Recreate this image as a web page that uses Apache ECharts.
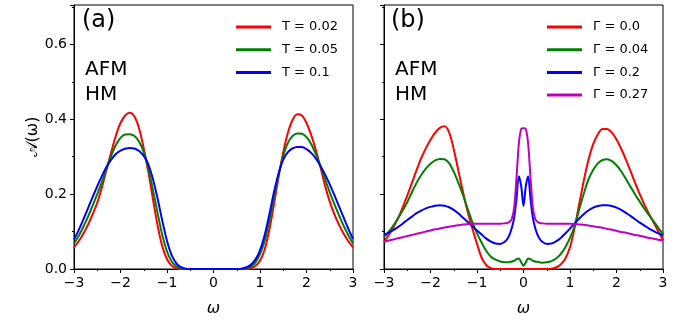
<!DOCTYPE html>
<html><head><meta charset="utf-8">
<script src="https://cdn.jsdelivr.net/npm/echarts@6/dist/echarts.min.js"></script>
<style>html,body{margin:0;padding:0;background:#fff}#c{width:691px;height:322px}</style>
</head><body><div id="c"></div>
<script>
// ---- Panel (a) : omega grid ----
const xA = [-3.0,-2.9,-2.8,-2.7,-2.6,-2.5,-2.4,-2.3,-2.2,-2.1,
            -2.0,-1.9,-1.8,-1.7,-1.6,-1.5,-1.4,-1.3,-1.2,-1.1,
            -1.0,-0.9,-0.8,-0.7,-0.6,-0.5,-0.4,-0.3,-0.2,-0.1,
            0.0,
            0.1,0.2,0.3,0.4,0.5,0.6,0.7,0.8,0.9,1.0,
            1.1,1.2,1.3,1.4,1.5,1.6,1.7,1.8,1.9,2.0,
            2.1,2.2,2.3,2.4,2.5,2.6,2.7,2.8,2.9,3.0];
const aT002 = [0.058,0.074,0.094,0.118,0.146,0.177,0.218,0.265,0.312,0.356,
               0.390,0.410,0.417,0.407,0.375,0.322,0.258,0.185,0.115,0.060,
               0.026,0.009,0.002,0,0,0,0,0,0,0,
               0,
               0,0,0,0,0,0,0,0.002,0.008,0.022,
               0.052,0.104,0.172,0.246,0.312,0.364,0.398,0.413,0.410,0.390,
               0.358,0.318,0.272,0.222,0.180,0.146,0.118,0.094,0.074,0.058];
const aT005 = [0.068,0.088,0.112,0.139,0.169,0.200,0.232,0.268,0.302,0.331,
               0.350,0.359,0.360,0.355,0.340,0.312,0.268,0.210,0.148,0.090,
               0.047,0.020,0.007,0.002,0,0,0,0,0,0,
               0,
               0,0,0,0,0,0,0.002,0.006,0.017,0.040,
               0.075,0.128,0.190,0.252,0.302,0.337,0.355,0.362,0.361,0.352,
               0.334,0.307,0.275,0.240,0.205,0.173,0.143,0.115,0.090,0.068];
const aT01  = [0.079,0.104,0.132,0.162,0.192,0.221,0.248,0.273,0.292,0.307,
               0.316,0.321,0.323,0.322,0.315,0.302,0.279,0.239,0.187,0.128,
               0.075,0.037,0.015,0.005,0.001,0,0,0,0,0,
               0,
               0,0,0,0,0,0.001,0.004,0.011,0.025,0.050,
               0.090,0.145,0.205,0.255,0.292,0.312,0.322,0.326,0.326,0.320,
               0.310,0.295,0.275,0.252,0.226,0.197,0.167,0.137,0.107,0.080];

// ---- Panel (b) : omega grid ----
const xB = [-3.0,-2.9,-2.8,-2.7,-2.6,-2.5,-2.4,-2.3,-2.2,-2.1,
            -2.0,-1.9,-1.8,-1.7,-1.6,-1.5,-1.4,-1.3,-1.2,-1.1,
            -1.0,-0.9,-0.8,-0.7,-0.6,-0.5,-0.4,
            -0.35,-0.3,-0.25,-0.2,-0.15,-0.1,-0.05,0,0.05,0.1,0.15,0.2,0.25,0.3,0.35,
            0.4,0.5,0.6,0.7,0.8,0.9,1.0,
            1.1,1.2,1.3,1.4,1.5,1.6,1.7,1.8,1.9,2.0,
            2.1,2.2,2.3,2.4,2.5,2.6,2.7,2.8,2.9,3.0];
const bG000 = [0.072,0.090,0.111,0.135,0.164,0.196,0.230,0.264,0.296,0.322,
               0.345,0.364,0.377,0.381,0.365,0.320,0.262,0.205,0.153,0.108,
               0.067,0.030,0.010,0.002,0,0,0,
               0,0,0,0,0,0,0,0,0,0,0,0,0,0,0,
               0,0,0.001,0.004,0.012,0.028,0.058,
               0.110,0.175,0.238,0.293,0.334,0.360,0.374,0.374,0.364,0.346,
               0.321,0.293,0.262,0.230,0.200,0.172,0.147,0.124,0.100,0.077];
const bG004 = [0.085,0.099,0.116,0.135,0.156,0.178,0.205,0.230,0.251,0.268,
               0.281,0.290,0.294,0.293,0.283,0.260,0.230,0.197,0.160,0.125,
               0.095,0.070,0.048,0.033,0.025,0.020,0.018,
               0.018,0.019,0.020,0.022,0.026,0.028,0.018,0.009,0.018,0.028,0.026,0.022,0.020,0.019,0.018,
               0.017,0.018,0.021,0.028,0.040,0.058,0.083,
               0.115,0.160,0.203,0.240,0.265,0.282,0.291,0.293,0.288,0.277,
               0.261,0.241,0.220,0.199,0.180,0.161,0.144,0.127,0.110,0.093];
const bG020 = [0.091,0.097,0.104,0.112,0.121,0.131,0.140,0.149,0.156,0.162,
               0.166,0.169,0.170,0.169,0.165,0.158,0.148,0.137,0.126,0.114,
               0.103,0.092,0.081,0.073,0.068,0.067,0.073,
               0.080,0.092,0.110,0.138,0.188,0.248,0.222,0.168,0.222,0.248,0.188,0.138,0.110,0.092,0.080,
               0.073,0.067,0.068,0.074,0.083,0.095,0.108,
               0.122,0.135,0.147,0.157,0.164,0.168,0.170,0.170,0.168,0.164,
               0.158,0.150,0.142,0.133,0.124,0.116,0.108,0.101,0.095,0.090];
const bG027 = [0.073,0.076,0.079,0.082,0.085,0.088,0.091,0.094,0.097,0.100,
               0.103,0.106,0.108,0.111,0.113,0.115,0.117,0.119,0.120,0.121,
               0.121,0.121,0.121,0.121,0.121,0.121,0.122,
               0.123,0.126,0.134,0.165,0.245,0.335,0.374,0.376,0.374,0.335,0.245,0.165,0.134,0.126,0.123,
               0.122,0.121,0.121,0.121,0.121,0.121,0.121,
               0.120,0.119,0.118,0.116,0.114,0.112,0.110,0.107,0.105,0.102,
               0.099,0.097,0.094,0.091,0.089,0.086,0.083,0.081,0.078,0.076];

const namesA = ['T = 0.02','T = 0.05','T = 0.1'];
const namesB = ['Γ = 0.0','Γ = 0.04','Γ = 0.2','Γ = 0.27'];
const xTicks = [-3,-2,-1,0,1,2,3];
const yTicks = [0,0.2,0.4,0.6];

const FONT = 'DejaVu Sans';
const zip = (xs, ys) => xs.map((x,i)=>[x, ys[i]]);

function xAxisCfg(idx){
  return {gridIndex: idx, type:'value', min: xTicks[0], max: xTicks[xTicks.length-1], interval: 1,
    name: 'ω', nameLocation:'middle', nameGap: 32,
    nameTextStyle:{fontFamily: FONT, fontSize: 16, fontStyle:'italic', color:'#000'},
    axisLine:{show:true, onZero:false, lineStyle:{color:'#000', width:1}},
    axisTick:{show:true, length:4, lineStyle:{color:'#000'}},
    minorTick:{show:true, splitNumber:2, length:2, lineStyle:{color:'#000'}},
    splitLine:{show:false},
    axisLabel:{margin:7, fontFamily: FONT, fontSize:14, color:'#000',
      formatter: v => String(v).replace('-', '\u2212')}};
}
function yAxisCfg(idx, labels){
  return {gridIndex: idx, type:'value', min: yTicks[0], max: 0.705, interval: 0.2,
    name: labels ? '𝒜(ω)' : '', nameLocation:'middle', nameGap: 30, nameRotate: 90,
    nameTextStyle:{fontFamily: FONT, fontSize: 16, color:'#000'},
    axisLine:{show:true, onZero:false, lineStyle:{color:'#000', width:1}},
    axisTick:{show:true, length:4, lineStyle:{color:'#000'}},
    minorTick:{show:true, splitNumber:2, length:2, lineStyle:{color:'#000'}},
    splitLine:{show:false},
    axisLabel:{show: labels, margin:7, fontFamily: FONT, fontSize:14, color:'#000',
      showMaxLabel:false,
      formatter: v => v.toFixed(1)}};
}
function lineSeries(name, data, color, idx){
  return {name, type:'line', xAxisIndex: idx, yAxisIndex: idx, data, smooth: 0.3,
    showSymbol:false, symbol:'none', clip:true,
    lineStyle:{color, width:2}, itemStyle:{color}, emphasis:{disabled:true}, animation:false};
}
const colors = ['#ff0000','#008000','#0000ff','#bf00bf'];

const chart = echarts.init(document.getElementById('c'), null, {renderer:'canvas'});
chart.setOption({
  animation:false,
  backgroundColor:'#fff',
  grid:[
    {left:74, top:5, width:279, height:269, show:true, borderColor:'#000', borderWidth:1, backgroundColor:'transparent'},
    {left:384, top:5, width:279, height:269, show:true, borderColor:'#000', borderWidth:1, backgroundColor:'transparent'}
  ],
  xAxis:[xAxisCfg(0), xAxisCfg(1)],
  yAxis:[yAxisCfg(0,true), yAxisCfg(1,false)],
  legend:[
    {data: namesA, orient:'vertical', left:231, top:15, itemWidth:35, itemHeight:3, itemGap:8.7,
     icon:'rect', selectedMode:false,
     textStyle:{fontFamily:FONT, fontSize:13, color:'#000', lineHeight:14, padding:[0,0,0,6]}},
    {data: namesB, orient:'vertical', left:542, top:15, itemWidth:35, itemHeight:3, itemGap:8.7,
     icon:'rect', selectedMode:false,
     textStyle:{fontFamily:FONT, fontSize:13, color:'#000', lineHeight:14, padding:[0,0,0,6]}}
  ],
  graphic:[
    {type:'text', left:82, top:9, style:{text:'(a)', fontFamily:FONT, fontSize:24, fill:'#000'}},
    {type:'text', left:85, top:60, style:{text:'AFM', fontFamily:FONT, fontSize:20, fill:'#000'}},
    {type:'text', left:85, top:85, style:{text:'HM', fontFamily:FONT, fontSize:20, fill:'#000'}},
    {type:'text', left:391, top:9, style:{text:'(b)', fontFamily:FONT, fontSize:24, fill:'#000'}},
    {type:'text', left:395, top:60, style:{text:'AFM', fontFamily:FONT, fontSize:20, fill:'#000'}},
    {type:'text', left:395, top:85, style:{text:'HM', fontFamily:FONT, fontSize:20, fill:'#000'}}
  ],
  series:[
    lineSeries(namesA[0], zip(xA, aT002), colors[0], 0),
    lineSeries(namesA[1], zip(xA, aT005), colors[1], 0),
    lineSeries(namesA[2], zip(xA, aT01),  colors[2], 0),
    lineSeries(namesB[0], zip(xB, bG000), colors[0], 1),
    lineSeries(namesB[1], zip(xB, bG004), colors[1], 1),
    lineSeries(namesB[2], zip(xB, bG020), colors[2], 1),
    lineSeries(namesB[3], zip(xB, bG027), colors[3], 1)
  ]
});
</script></body></html>
